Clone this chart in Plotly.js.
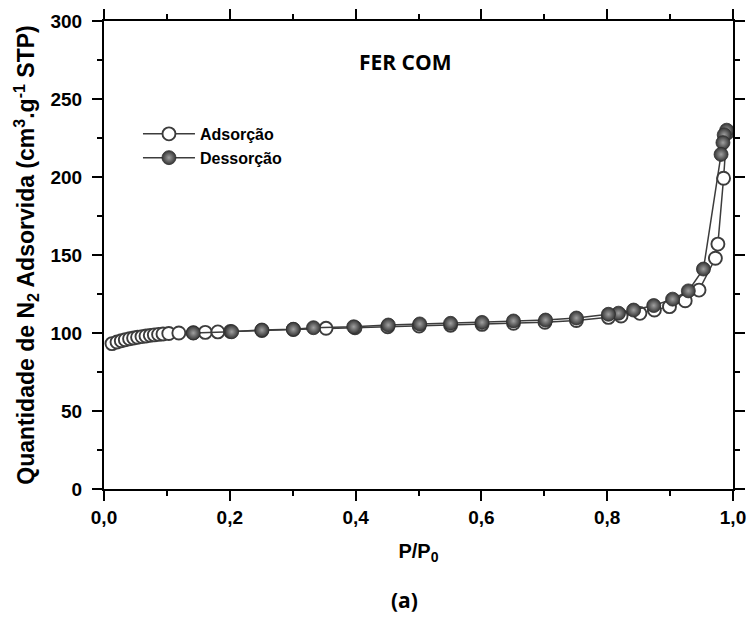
<!DOCTYPE html>
<html>
<head>
<meta charset="utf-8">
<script src="https://cdn.plot.ly/plotly-3.0.1.min.js"></script>
<style>html,body{margin:0;padding:0;background:#fff;}#chart{width:753px;height:620px;}</style>
</head>
<body>
<div id="chart"></div>
<script>
const adsX = [0.0127,0.0207,0.0275,0.0339,0.0407,0.0471,0.0534,0.0604,0.0668,0.0736,0.080,0.0868,0.0938,0.103,0.119,0.142,0.161,0.181,0.201,0.251,0.301,0.353,0.399,0.451,0.501,0.551,0.601,0.651,0.701,0.751,0.802,0.822,0.852,0.875,0.899,0.924,0.946,0.972,0.976,0.985,0.990];
const adsY = [93.2,94.2,95.0,95.7,96.3,96.8,97.3,97.7,98.1,98.5,98.8,99.1,99.4,99.7,100.0,100.2,100.4,100.7,101.0,101.6,102.2,103.0,103.4,104.0,104.5,105.0,105.5,106.2,106.9,108.0,110.0,110.9,112.6,114.7,116.9,120.7,127.5,147.9,157.0,199.2,228.0];
const desX = [0.990,0.986,0.984,0.981,0.953,0.929,0.904,0.874,0.842,0.818,0.802,0.751,0.702,0.651,0.601,0.551,0.502,0.452,0.397,0.333,0.301,0.251,0.203,0.142];
const desY = [230.0,227.0,222.0,214.5,141.0,127.0,121.7,117.6,114.7,112.7,112.0,109.6,108.3,107.7,106.8,106.2,105.8,105.1,104.0,103.4,102.4,101.9,100.8,100.0];
const seriesNames = ['Adsorção','Dessorção'];

const lineCol = '#3c3c3c';
const traces = [
  {x: adsX, y: adsY, name: seriesNames[0], mode: 'lines+markers', type: 'scatter',
   line: {color: lineCol, width: 1.5},
   marker: {symbol: 'circle', size: 13, color: '#ffffff', line: {color: lineCol, width: 1.9}}},
  {x: desX, y: desY, name: seriesNames[1], mode: 'lines+markers', type: 'scatter',
   line: {color: lineCol, width: 1.5},
   marker: {symbol: 'circle', size: 14, color: '#343434', line: {color: '#2e2e2e', width: 0.8},
            gradient: {type: 'radial', color: '#a0a0a0'}}}
];

const fam = 'Liberation Sans, Arial, sans-serif';
const tickFont = {family: fam, size: 19, color: '#000', weight: 'bold'};
const layout = {
  width: 753, height: 620,
  margin: {l: 104, r: 20, t: 21, b: 131},
  paper_bgcolor: '#fff', plot_bgcolor: '#fff',
  separators: ',.',
  showlegend: true,
  font: tickFont,
  xaxis: {range: [0, 1], dtick: 0.2, tick0: 0, tickformat: '.1f',
    showgrid: false, zeroline: false, showline: true, linecolor: '#000', linewidth: 2,
    mirror: 'ticks', ticks: 'outside', ticklen: 10, tickwidth: 2, tickcolor: '#000',
    minor: {dtick: 0.1, ticks: 'outside', ticklen: 5, tickwidth: 2, tickcolor: '#000'},
    tickfont: tickFont,
    title: {text: 'P/P<sub>0</sub>', font: {family: fam, size: 20, color: '#000', weight: 'bold'}, standoff: 17}},
  yaxis: {range: [0, 300], dtick: 50, tick0: 0,
    showgrid: false, zeroline: false, showline: true, linecolor: '#000', linewidth: 2,
    mirror: 'ticks', ticks: 'outside', ticklen: 10, tickwidth: 2, tickcolor: '#000',
    ticklabelstandoff: 6,
    minor: {dtick: 25, ticks: 'outside', ticklen: 5, tickwidth: 2, tickcolor: '#000'},
    tickfont: tickFont,
    title: {text: 'Quantidade de N<sub>2</sub> Adsorvida (cm<sup>3</sup>.g<sup>-1</sup> STP)', font: {family: fam, size: 23, color: '#000', weight: 'bold'}, standoff: 9}},
  legend: {x: 0.054, y: 0.795, xanchor: 'left', yanchor: 'top', bgcolor: 'rgba(0,0,0,0)',
    itemwidth: 52,
    font: {family: fam, size: 16, color: '#000', weight: 'bold'}},
  annotations: [
    {text: 'FER COM', xref: 'paper', yref: 'paper', x: 0.479, y: 0.912, xanchor: 'center', yanchor: 'middle', showarrow: false,
     font: {family: 'Open Sans, sans-serif', size: 21, color: '#000', weight: 'bold'}},
    {text: '(a)', xref: 'paper', yref: 'paper', x: 0.478, y: -0.237, xanchor: 'center', yanchor: 'middle', showarrow: false,
     font: {family: 'Open Sans, sans-serif', size: 21, color: '#000', weight: 'bold'}}
  ]
};
Plotly.newPlot('chart', traces, layout, {displayModeBar: false, staticPlot: true});
</script>
</body>
</html>
